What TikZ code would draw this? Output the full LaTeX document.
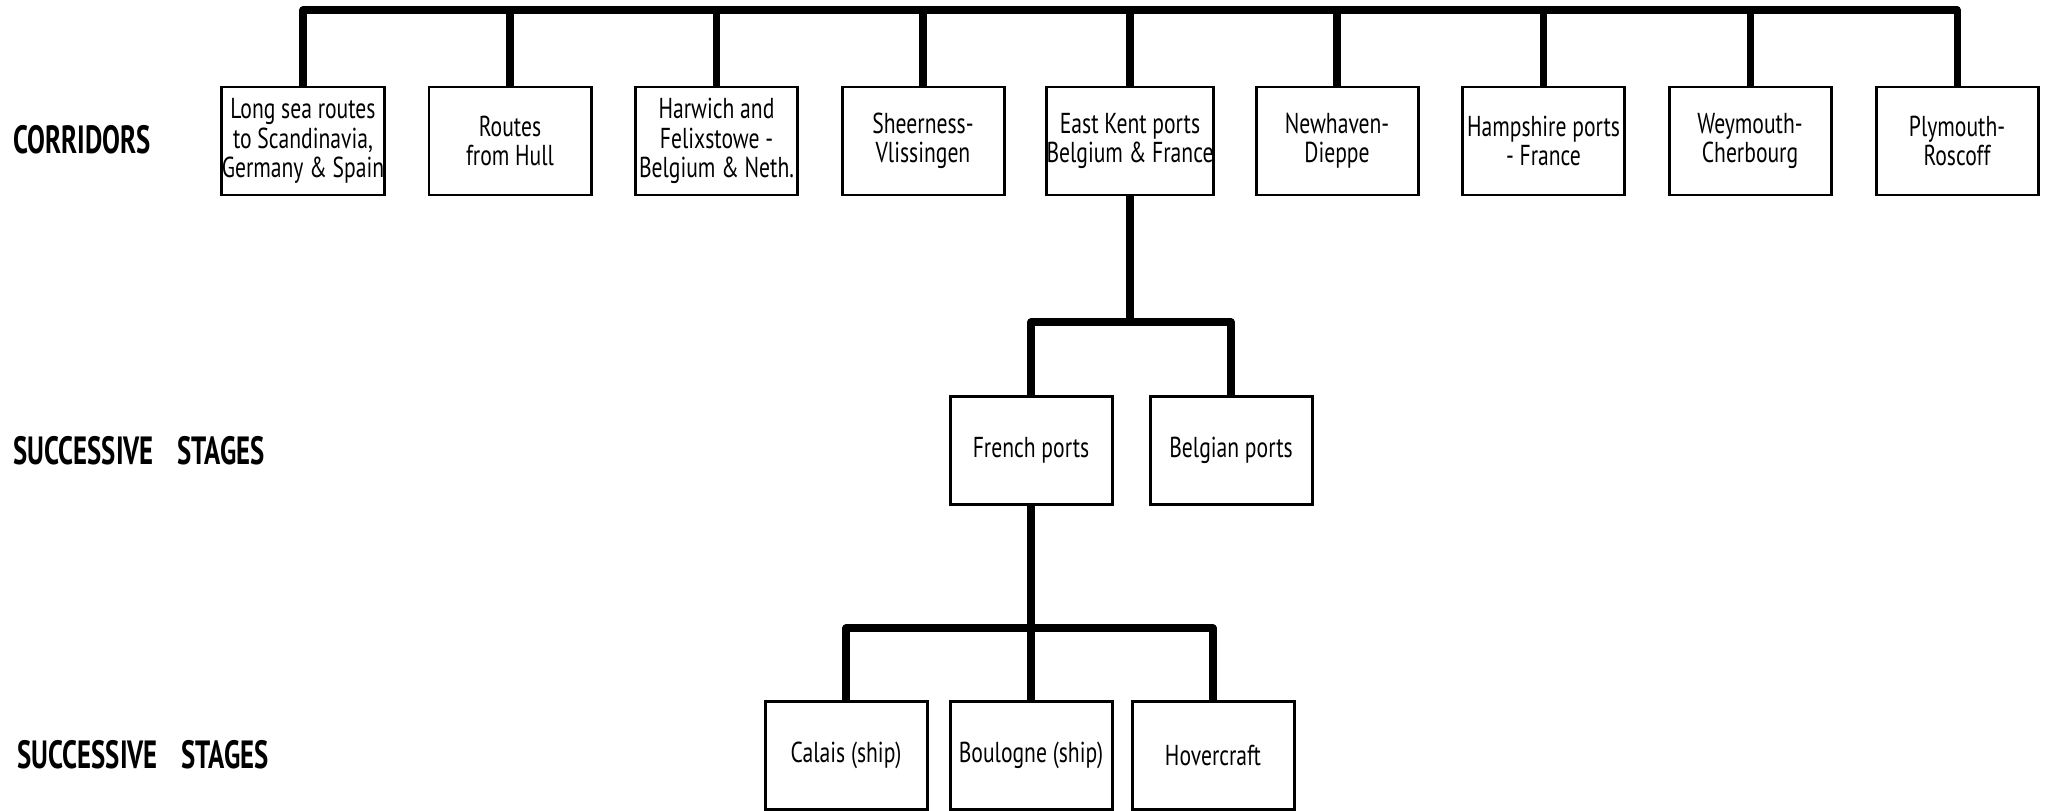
\documentclass[tikz,border=0pt]{standalone}
\usepackage{fontspec}
\setmainfont{PT Sans}
\newfontfamily\boxfont{PT Sans}[FakeStretch=0.75]
\newfontfamily\lblfont{PT Sans}[FakeStretch=0.68]
\usepackage{tikz}
\usetikzlibrary{arrows}

\begin{document}
\begin{tikzpicture}
\tikzset{port/.style = {shape=rectangle,draw,line width=0.85pt,minimum width=1.62cm,minimum height=1.08cm,inner sep=0pt,align=center,font=\boxfont\fontsize{8.2}{8.3}\selectfont}}
\tikzset{level/.style = {anchor=west,inner sep=0pt,font=\lblfont\bfseries\fontsize{11.2}{13}\selectfont}}
\tikzset{bar/.style = {line width=2pt,line join=round}}
\useasboundingbox (0,0) rectangle (20.49,8.10);
% labels
\node[level] (cor) at (0.13,6.70) {CORRIDORS};
\node[level] (st1) at (0.13,3.59) {SUCCESSIVE\hspace{0.6em}STAGES};
\node[level] (st2) at (0.17,0.55) {SUCCESSIVE\hspace{0.6em}STAGES};
% vertices
\node[port] (lsr) at (3.03,6.69) {Long sea routes\\to Scandinavia,\\Germany \& Spain};
\node[port] (rfh) at (5.10,6.69) {Routes\\from Hull};
\node[port] (hfb) at (7.165,6.69) {Harwich and\\Felixstowe -\\Belgium \& Neth.};
\node[port] (svl) at (9.23,6.69) {Sheerness-\\Vlissingen};
\node[port] (ekp) at (11.30,6.69) {East Kent ports\\Belgium \& France};
\node[port] (ndi) at (13.37,6.69) {Newhaven-\\Dieppe};
\node[port] (hpf) at (15.435,6.69) {Hampshire ports\\- France};
\node[port] (wch) at (17.50,6.69) {Weymouth-\\Cherbourg};
\node[port] (pro) at (19.57,6.69) {Plymouth-\\Roscoff};

\node[port] (fre) at (10.31,3.60) {French ports};
\node[port] (bel) at (12.31,3.60) {Belgian ports};

\node[port] (cal) at (8.46,0.55) {Calais (ship)};
\node[port] (bou) at (10.31,0.55) {Boulogne (ship)};
\node[port] (hov) at (12.13,0.55) {Hovercraft};
%edges
\coordinate (top) at (11.30,8.00);
\coordinate (fork2) at (11.30,4.88);
\coordinate (fork3) at (10.31,1.82);

\draw[bar] (lsr.north) |- (top) -| (pro.north);
\foreach \p in {rfh,hfb,svl,ekp,ndi,hpf,wch}
  \draw[bar] (\p.north) -- (\p.north |- top);

\draw[bar] (ekp.south) -- (fork2);
\draw[bar] (fre.north) |- (fork2) -| (bel.north);

\draw[bar] (fre.south) -- (bou.north);
\draw[bar] (cal.north) |- (fork3) -| (hov.north);

\end{tikzpicture}
\end{document}
